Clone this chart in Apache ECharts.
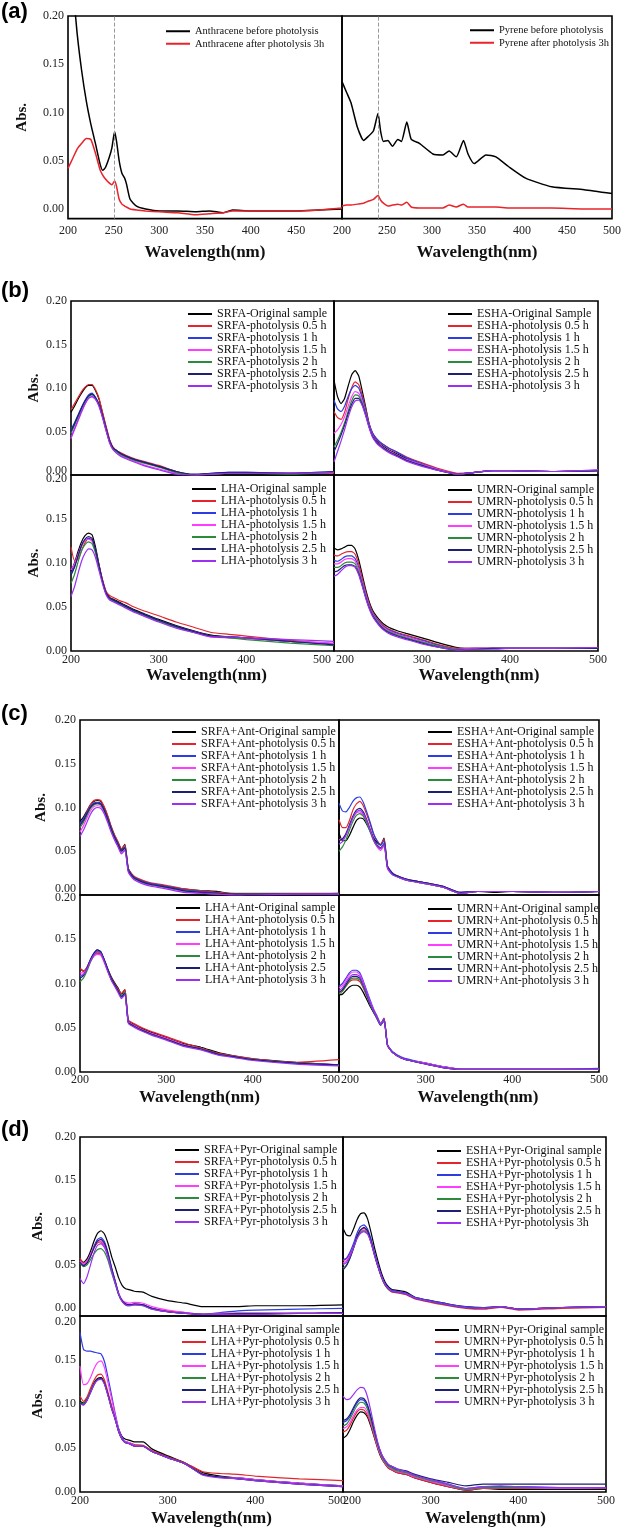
<!DOCTYPE html>
<html><head><meta charset="utf-8">
<script src="https://cdn.jsdelivr.net/npm/echarts@6/dist/echarts.min.js"></script>
<style>html,body{margin:0;padding:0;background:#fff}#c{width:624px;height:1528px}</style>
</head><body><div id="c"></div>
<script>
// ---------------- DATA ----------------
// (a) Anthracene
const A_ANT_WL = [200,205,210,215,220,225,230,235,238,241,245,248,251,253,256,259,262,264,268,275,285,300,320,340,355,370,380,400,425,450,475,500];
const A_ANT_BEFORE = [0.30,0.235,0.182,0.143,0.112,0.088,0.068,0.047,0.040,0.043,0.053,0.063,0.080,0.071,0.050,0.037,0.032,0.026,0.010,0.003,0.000,-0.002,-0.002,-0.003,-0.002,-0.004,-0.001,-0.002,-0.002,-0.002,-0.001,0.000];
const A_ANT_AFTER  = [0.042,0.052,0.062,0.068,0.073,0.072,0.058,0.041,0.035,0.031,0.027,0.025,0.029,0.024,0.010,0.005,0.003,0.002,0.000,-0.001,-0.002,-0.003,-0.004,-0.006,-0.005,-0.004,-0.002,-0.002,-0.002,-0.002,-0.001,0.001];
const A_ANT_NAMES = ['Anthracene before photolysis','Anthracene after photolysis 3h'];
// (a) Pyrene
const A_PYR_WL = [200,205,210,217,224,229,235,240,243,246,251,256,262,266,272,277,286,301,312,319,327,335,340,347,360,371,385,404,433,469,500];
const A_PYR_BEFORE = [0.132,0.121,0.110,0.085,0.071,0.075,0.081,0.099,0.080,0.070,0.071,0.065,0.072,0.070,0.090,0.072,0.068,0.057,0.056,0.060,0.054,0.071,0.057,0.047,0.056,0.054,0.044,0.032,0.023,0.020,0.016];
const A_PYR_AFTER  = [0.003,0.004,0.004,0.005,0.006,0.008,0.010,0.014,0.009,0.006,0.003,0.004,0.005,0.004,0.007,0.002,0.001,0.001,0.001,0.004,0.002,0.005,0.002,0.002,0.002,0.002,0.001,0.001,0.001,0.000,0.000];
const A_PYR_NAMES = ['Pyrene before photolysis','Pyrene after photolysis 3h'];

// (b)-(d) common wavelength grid
const WL = [200,204,208,212,216,220,224,228,232,236,240,244,248,252,256,262,272,282,300,320,340,360,380,400,450,500];

// order of each list: Original, 0.5 h, 1 h, 1.5 h, 2 h, 2.5 h, 3 h
const B_SRFA_NAMES = ['SRFA-Original sample','SRFA-photolysis 0.5 h','SRFA-photolysis 1 h','SRFA-photolysis 1.5 h','SRFA-photolysis 2 h','SRFA-photolysis 2.5 h','SRFA-photolysis 3 h'];
const B_SRFA = [
 [0.072,0.079,0.087,0.094,0.100,0.103,0.103,0.097,0.087,0.071,0.055,0.040,0.031,0.028,0.025,0.022,0.018,0.015,0.010,0.003,0.000,0.001,0.002,0.002,0.002,0.003],
 [0.075,0.082,0.089,0.096,0.101,0.104,0.104,0.098,0.088,0.072,0.056,0.041,0.032,0.028,0.026,0.023,0.019,0.016,0.011,0.004,0.000,0.001,0.002,0.002,0.002,0.002],
 [0.052,0.060,0.069,0.078,0.086,0.092,0.094,0.089,0.081,0.068,0.053,0.039,0.031,0.028,0.025,0.022,0.018,0.015,0.010,0.004,0.000,0.002,0.003,0.003,0.002,0.004],
 [0.042,0.052,0.062,0.072,0.081,0.088,0.090,0.087,0.079,0.066,0.051,0.037,0.029,0.026,0.023,0.020,0.016,0.012,0.007,0.002,0.000,0.001,0.002,0.002,0.002,0.003],
 [0.048,0.057,0.066,0.076,0.084,0.090,0.092,0.088,0.080,0.067,0.052,0.038,0.030,0.027,0.024,0.021,0.017,0.014,0.009,0.003,0.000,0.001,0.002,0.002,0.001,0.003],
 [0.050,0.059,0.068,0.077,0.085,0.091,0.093,0.089,0.081,0.068,0.053,0.039,0.031,0.028,0.025,0.022,0.018,0.015,0.010,0.004,0.001,0.002,0.003,0.003,0.002,0.004],
 [0.043,0.053,0.063,0.073,0.082,0.088,0.090,0.087,0.079,0.066,0.051,0.037,0.029,0.025,0.022,0.019,0.015,0.011,0.006,0.001,0.000,0.001,0.002,0.002,0.002,0.003]
];
const B_ESHA_NAMES = ['ESHA-Original Sample','ESHA-photolysis 0.5 h','ESHA-photolysis 1 h','ESHA-photolysis 1.5 h','ESHA-photolysis 2 h','ESHA-photolysis 2.5 h','ESHA-photolysis 3 h'];
const B_ESHA = [
 [0.109,0.090,0.082,0.088,0.102,0.115,0.120,0.114,0.097,0.078,0.058,0.046,0.040,0.036,0.033,0.029,0.024,0.019,0.012,0.006,0.001,0.003,0.005,0.005,0.004,0.005],
 [0.073,0.066,0.064,0.072,0.087,0.100,0.107,0.104,0.092,0.076,0.059,0.048,0.042,0.038,0.035,0.031,0.026,0.021,0.014,0.007,0.002,0.003,0.005,0.005,0.004,0.005],
 [0.086,0.076,0.073,0.079,0.090,0.099,0.103,0.100,0.089,0.074,0.058,0.048,0.042,0.038,0.035,0.031,0.026,0.020,0.013,0.006,0.001,0.003,0.005,0.005,0.004,0.005],
 [0.048,0.052,0.058,0.067,0.079,0.090,0.096,0.094,0.085,0.071,0.056,0.045,0.039,0.035,0.032,0.028,0.023,0.018,0.012,0.006,0.001,0.003,0.005,0.005,0.004,0.006],
 [0.032,0.040,0.049,0.060,0.073,0.085,0.092,0.091,0.083,0.070,0.055,0.044,0.038,0.034,0.031,0.027,0.022,0.017,0.011,0.005,0.001,0.003,0.005,0.005,0.004,0.005],
 [0.027,0.036,0.046,0.057,0.070,0.081,0.088,0.088,0.081,0.069,0.055,0.044,0.038,0.034,0.031,0.027,0.022,0.017,0.011,0.005,0.001,0.003,0.005,0.005,0.004,0.005],
 [0.015,0.027,0.039,0.052,0.066,0.078,0.085,0.086,0.080,0.068,0.054,0.043,0.037,0.033,0.030,0.026,0.021,0.016,0.010,0.005,0.001,0.003,0.005,0.005,0.004,0.006]
];
const B_LHA_NAMES = ['LHA-Original sample','LHA-photolysis 0.5 h','LHA-photolysis 1 h','LHA-photolysis 1.5 h','LHA-photolysis 2 h','LHA-photolysis 2.5 h','LHA-photolysis 3 h'];
const B_LHA = [
 [0.090,0.100,0.113,0.124,0.131,0.134,0.132,0.118,0.098,0.080,0.067,0.061,0.059,0.057,0.055,0.052,0.047,0.043,0.036,0.029,0.023,0.018,0.016,0.015,0.011,0.008],
 [0.118,0.103,0.104,0.114,0.123,0.128,0.126,0.114,0.097,0.081,0.068,0.063,0.061,0.059,0.057,0.055,0.050,0.046,0.040,0.033,0.027,0.021,0.019,0.017,0.012,0.008],
 [0.088,0.096,0.108,0.119,0.126,0.128,0.126,0.114,0.096,0.079,0.066,0.060,0.058,0.056,0.054,0.051,0.046,0.042,0.035,0.028,0.022,0.017,0.016,0.015,0.011,0.008],
 [0.092,0.099,0.110,0.120,0.126,0.127,0.125,0.113,0.095,0.078,0.065,0.059,0.057,0.055,0.053,0.050,0.045,0.041,0.034,0.027,0.022,0.016,0.015,0.014,0.011,0.009],
 [0.077,0.087,0.101,0.114,0.121,0.124,0.122,0.111,0.094,0.078,0.065,0.059,0.057,0.055,0.053,0.050,0.045,0.041,0.034,0.027,0.021,0.017,0.015,0.013,0.009,0.006],
 [0.086,0.095,0.108,0.120,0.127,0.130,0.128,0.115,0.097,0.079,0.066,0.060,0.058,0.056,0.054,0.051,0.046,0.042,0.035,0.028,0.022,0.017,0.016,0.015,0.011,0.007],
 [0.062,0.073,0.088,0.102,0.111,0.116,0.115,0.106,0.091,0.076,0.064,0.058,0.056,0.054,0.052,0.049,0.044,0.040,0.033,0.026,0.021,0.016,0.016,0.015,0.013,0.011]
];
const B_UMRN_NAMES = ['UMRN-Original sample','UMRN-photolysis 0.5 h','UMRN-photolysis 1 h','UMRN-photolysis 1.5 h','UMRN-photolysis 2 h','UMRN-photolysis 2.5 h','UMRN-photolysis 3 h'];
const B_UMRN = [
 [0.117,0.115,0.116,0.118,0.120,0.120,0.116,0.104,0.087,0.070,0.056,0.046,0.040,0.035,0.031,0.027,0.023,0.020,0.015,0.009,0.004,0.003,0.003,0.003,0.003,0.003],
 [0.109,0.108,0.110,0.112,0.113,0.113,0.110,0.099,0.083,0.067,0.054,0.044,0.038,0.033,0.029,0.025,0.021,0.018,0.013,0.007,0.003,0.003,0.003,0.003,0.003,0.003],
 [0.103,0.102,0.104,0.107,0.108,0.108,0.105,0.095,0.080,0.065,0.052,0.043,0.037,0.032,0.028,0.024,0.020,0.017,0.012,0.006,0.002,0.003,0.003,0.003,0.003,0.004],
 [0.099,0.099,0.101,0.104,0.105,0.105,0.102,0.093,0.079,0.064,0.051,0.042,0.036,0.031,0.027,0.023,0.019,0.016,0.011,0.005,0.002,0.003,0.003,0.003,0.003,0.004],
 [0.095,0.095,0.097,0.100,0.101,0.101,0.099,0.090,0.077,0.062,0.050,0.041,0.035,0.030,0.026,0.022,0.018,0.015,0.010,0.005,0.002,0.002,0.003,0.003,0.003,0.003],
 [0.090,0.091,0.094,0.097,0.098,0.098,0.096,0.088,0.075,0.061,0.049,0.040,0.034,0.029,0.025,0.021,0.017,0.014,0.009,0.004,0.001,0.002,0.003,0.003,0.003,0.003],
 [0.085,0.087,0.091,0.095,0.097,0.097,0.095,0.087,0.074,0.060,0.048,0.039,0.033,0.028,0.024,0.020,0.016,0.013,0.008,0.004,0.001,0.002,0.002,0.003,0.003,0.004]
];
const C_SRFA_NAMES = ['SRFA+Ant-Original sample','SRFA+Ant-photolysis 0.5 h','SRFA+Ant-photolysis 1 h','SRFA+Ant-photolysis 1.5 h','SRFA+Ant-photolysis 2 h','SRFA+Ant-photolysis 2.5 h','SRFA+Ant-photolysis 3 h'];
const C_SRFA = [
 [0.084,0.089,0.096,0.103,0.107,0.108,0.107,0.100,0.090,0.078,0.068,0.060,0.052,0.058,0.030,0.021,0.016,0.013,0.010,0.007,0.005,0.004,0.001,0.001,0.001,0.001],
 [0.080,0.087,0.095,0.103,0.108,0.109,0.108,0.101,0.091,0.079,0.069,0.061,0.053,0.057,0.030,0.022,0.017,0.014,0.011,0.007,0.005,0.003,0.002,0.002,0.002,0.002],
 [0.082,0.087,0.094,0.101,0.105,0.106,0.105,0.098,0.088,0.077,0.067,0.059,0.051,0.055,0.029,0.021,0.016,0.013,0.010,0.006,0.004,0.002,0.001,0.001,0.001,0.002],
 [0.072,0.079,0.088,0.096,0.101,0.102,0.101,0.095,0.085,0.074,0.064,0.056,0.048,0.052,0.027,0.019,0.014,0.011,0.008,0.004,0.002,0.001,0.000,0.001,0.001,0.001],
 [0.077,0.083,0.091,0.099,0.103,0.104,0.103,0.097,0.087,0.076,0.066,0.058,0.050,0.054,0.028,0.020,0.015,0.012,0.009,0.005,0.003,0.002,0.001,0.001,0.001,0.001],
 [0.080,0.085,0.093,0.100,0.104,0.105,0.104,0.097,0.087,0.076,0.066,0.058,0.050,0.054,0.028,0.020,0.015,0.012,0.009,0.005,0.003,0.002,0.001,0.001,0.001,0.001],
 [0.067,0.074,0.083,0.092,0.098,0.100,0.099,0.093,0.083,0.072,0.063,0.055,0.047,0.051,0.026,0.018,0.013,0.010,0.007,0.003,0.002,0.001,0.000,0.000,0.001,0.001]
];
const C_ESHA_NAMES = ['ESHA+Ant-Original sample','ESHA+Ant-photolysis 0.5 h','ESHA+Ant-photolysis 1 h','ESHA+Ant-photolysis 1.5 h','ESHA+Ant-photolysis 2 h','ESHA+Ant-photolysis 2.5 h','ESHA+Ant-photolysis 3 h'];
const C_ESHA = [
 [0.071,0.062,0.062,0.068,0.077,0.085,0.088,0.087,0.081,0.073,0.065,0.060,0.057,0.065,0.032,0.024,0.019,0.016,0.013,0.009,0.002,0.004,0.003,0.004,0.003,0.004],
 [0.086,0.077,0.077,0.085,0.097,0.104,0.107,0.102,0.092,0.081,0.069,0.062,0.058,0.064,0.033,0.025,0.020,0.017,0.014,0.010,0.003,0.004,0.004,0.004,0.003,0.004],
 [0.105,0.096,0.095,0.100,0.107,0.111,0.112,0.106,0.095,0.083,0.070,0.062,0.057,0.062,0.033,0.025,0.020,0.017,0.014,0.010,0.003,0.004,0.004,0.004,0.003,0.004],
 [0.063,0.064,0.070,0.079,0.088,0.094,0.095,0.091,0.083,0.073,0.062,0.055,0.051,0.056,0.030,0.023,0.019,0.016,0.013,0.009,0.002,0.004,0.004,0.004,0.003,0.004],
 [0.050,0.055,0.063,0.074,0.084,0.091,0.093,0.090,0.082,0.072,0.062,0.056,0.053,0.058,0.031,0.023,0.019,0.016,0.013,0.009,0.002,0.004,0.004,0.004,0.003,0.004],
 [0.062,0.064,0.070,0.080,0.090,0.097,0.099,0.095,0.086,0.075,0.064,0.057,0.054,0.059,0.032,0.024,0.020,0.017,0.014,0.010,0.003,0.004,0.004,0.004,0.003,0.004],
 [0.058,0.061,0.068,0.078,0.088,0.095,0.097,0.093,0.085,0.074,0.063,0.056,0.053,0.058,0.031,0.023,0.019,0.016,0.013,0.009,0.002,0.004,0.004,0.004,0.003,0.004]
];
const C_LHA_NAMES = ['LHA+Ant-Original sample','LHA+Ant-photolysis 0.5 h','LHA+Ant-photolysis 1 h','LHA+Ant-photolysis 1.5 h','LHA+Ant-photolysis 2 h','LHA+Ant-photolysis 2.5','LHA+Ant-photolysis 3 h'];
const C_LHA = [
 [0.117,0.114,0.118,0.126,0.133,0.136,0.135,0.127,0.117,0.108,0.101,0.095,0.088,0.093,0.058,0.054,0.049,0.045,0.039,0.032,0.028,0.022,0.018,0.015,0.011,0.008],
 [0.117,0.114,0.118,0.125,0.131,0.134,0.133,0.126,0.116,0.107,0.100,0.094,0.089,0.093,0.059,0.055,0.050,0.046,0.040,0.033,0.027,0.021,0.018,0.015,0.011,0.014],
 [0.108,0.110,0.117,0.126,0.134,0.138,0.136,0.127,0.116,0.106,0.099,0.092,0.085,0.089,0.056,0.052,0.047,0.043,0.037,0.030,0.026,0.020,0.017,0.014,0.010,0.008],
 [0.112,0.112,0.117,0.125,0.131,0.133,0.132,0.124,0.114,0.105,0.098,0.092,0.086,0.090,0.057,0.053,0.048,0.044,0.038,0.031,0.026,0.020,0.017,0.014,0.010,0.008],
 [0.102,0.106,0.114,0.124,0.132,0.136,0.135,0.126,0.115,0.105,0.098,0.092,0.086,0.090,0.056,0.052,0.047,0.043,0.037,0.030,0.026,0.020,0.017,0.014,0.010,0.008],
 [0.106,0.109,0.117,0.127,0.134,0.138,0.136,0.127,0.116,0.106,0.099,0.092,0.085,0.089,0.056,0.052,0.047,0.043,0.037,0.030,0.026,0.020,0.017,0.014,0.010,0.008],
 [0.109,0.110,0.116,0.125,0.132,0.136,0.134,0.125,0.114,0.104,0.097,0.090,0.083,0.087,0.055,0.051,0.046,0.042,0.036,0.029,0.025,0.019,0.016,0.013,0.009,0.007]
];
const C_UMRN_NAMES = ['UMRN+Ant-Original sample','UMRN+Ant-photolysis 0.5 h','UMRN+Ant-photolysis 1 h','UMRN+Ant-photolysis 1.5 h','UMRN+Ant-photolysis 2 h','UMRN+Ant-photolysis 2.5 h','UMRN+Ant-photolysis 3 h'];
const C_UMRN = [
 [0.087,0.088,0.092,0.096,0.098,0.098,0.096,0.090,0.082,0.074,0.067,0.060,0.053,0.060,0.030,0.022,0.016,0.013,0.010,0.006,0.003,0.003,0.003,0.003,0.003,0.003],
 [0.090,0.092,0.097,0.102,0.104,0.104,0.102,0.095,0.086,0.077,0.069,0.061,0.054,0.061,0.030,0.022,0.016,0.013,0.009,0.005,0.003,0.003,0.003,0.003,0.003,0.003],
 [0.097,0.100,0.106,0.112,0.115,0.115,0.112,0.103,0.092,0.081,0.071,0.063,0.055,0.060,0.031,0.023,0.017,0.014,0.010,0.006,0.003,0.003,0.003,0.003,0.003,0.004],
 [0.095,0.098,0.104,0.110,0.113,0.113,0.110,0.101,0.090,0.079,0.070,0.062,0.054,0.059,0.030,0.022,0.016,0.013,0.010,0.006,0.003,0.003,0.003,0.003,0.003,0.003],
 [0.088,0.091,0.097,0.103,0.106,0.106,0.104,0.096,0.086,0.076,0.068,0.060,0.053,0.058,0.030,0.022,0.016,0.013,0.009,0.005,0.003,0.003,0.003,0.003,0.003,0.003],
 [0.090,0.093,0.099,0.105,0.108,0.108,0.106,0.098,0.088,0.077,0.069,0.061,0.053,0.058,0.030,0.022,0.016,0.013,0.009,0.005,0.003,0.003,0.003,0.003,0.003,0.003],
 [0.092,0.095,0.101,0.107,0.110,0.110,0.108,0.099,0.089,0.078,0.069,0.061,0.053,0.058,0.030,0.022,0.016,0.013,0.009,0.005,0.003,0.003,0.003,0.003,0.003,0.003]
];
const D_SRFA_NAMES = ['SRFA+Pyr-Original sample','SRFA+Pyr-photolysis 0.5 h','SRFA+Pyr-photolysis 1 h','SRFA+Pyr-photolysis 1.5 h','SRFA+Pyr-photolysis 2 h','SRFA+Pyr-photolysis 2.5 h','SRFA+Pyr-photolysis 3 h'];
const D_SRFA = [
 [0.056,0.053,0.057,0.066,0.078,0.087,0.090,0.086,0.075,0.060,0.048,0.035,0.026,0.022,0.021,0.019,0.018,0.013,0.008,0.005,0.001,0.001,0.001,0.002,0.002,0.003],
 [0.058,0.052,0.054,0.061,0.070,0.076,0.077,0.072,0.060,0.044,0.030,0.016,0.008,0.004,0.003,0.004,0.003,-0.001,-0.004,-0.006,-0.008,-0.007,-0.007,-0.007,-0.007,-0.006],
 [0.054,0.050,0.053,0.061,0.072,0.080,0.082,0.077,0.064,0.047,0.032,0.017,0.008,0.004,0.003,0.004,0.003,-0.001,-0.005,-0.007,-0.008,-0.006,-0.004,-0.003,-0.002,-0.001],
 [0.055,0.051,0.054,0.062,0.071,0.077,0.078,0.073,0.061,0.045,0.031,0.017,0.009,0.006,0.005,0.006,0.005,0.001,-0.003,-0.006,-0.008,-0.007,-0.007,-0.007,-0.007,-0.006],
 [0.052,0.048,0.050,0.056,0.063,0.068,0.069,0.065,0.055,0.041,0.028,0.015,0.007,0.003,0.002,0.003,0.002,-0.002,-0.005,-0.007,-0.008,-0.008,-0.008,-0.008,-0.007,-0.007],
 [0.053,0.049,0.052,0.060,0.070,0.078,0.080,0.075,0.063,0.046,0.031,0.016,0.008,0.004,0.003,0.004,0.003,-0.001,-0.005,-0.007,-0.008,-0.008,-0.007,-0.007,-0.007,-0.006],
 [0.034,0.028,0.036,0.050,0.064,0.073,0.075,0.070,0.059,0.043,0.029,0.016,0.007,0.003,0.002,0.003,0.002,-0.002,-0.005,-0.007,-0.008,-0.008,-0.008,-0.008,-0.007,-0.007]
];
const D_ESHA_NAMES = ['ESHA+Pyr-Original sample','ESHA+Pyr-photolysis 0.5 h','ESHA+Pyr-photolysis 1 h','ESHA+Pyr-photolysis 1.5 h','ESHA+Pyr-photolysis 2 h','ESHA+Pyr-photolysis 2.5 h','ESHA+Pyr-photolysis 3h'];
const D_ESHA = [
 [0.093,0.085,0.084,0.092,0.103,0.110,0.111,0.104,0.088,0.070,0.054,0.040,0.030,0.024,0.021,0.020,0.018,0.012,0.008,0.004,0.001,0.000,0.001,-0.002,0.000,0.001],
 [0.055,0.057,0.063,0.072,0.084,0.091,0.093,0.089,0.077,0.062,0.048,0.035,0.026,0.021,0.018,0.017,0.015,0.010,0.006,0.002,-0.001,-0.002,0.000,-0.003,-0.001,0.000],
 [0.056,0.058,0.065,0.075,0.087,0.095,0.097,0.092,0.080,0.064,0.050,0.037,0.028,0.023,0.020,0.019,0.017,0.012,0.008,0.004,0.001,0.000,0.001,-0.002,0.000,0.001],
 [0.052,0.055,0.061,0.071,0.082,0.089,0.091,0.088,0.077,0.062,0.048,0.036,0.027,0.022,0.019,0.018,0.016,0.011,0.007,0.003,0.000,-0.001,0.001,-0.002,0.000,0.001],
 [0.046,0.050,0.058,0.069,0.081,0.088,0.090,0.087,0.076,0.061,0.047,0.035,0.026,0.021,0.019,0.018,0.016,0.011,0.007,0.003,0.000,-0.001,0.001,-0.002,0.000,0.001],
 [0.044,0.049,0.058,0.070,0.083,0.091,0.094,0.090,0.078,0.062,0.048,0.036,0.027,0.022,0.019,0.018,0.016,0.011,0.007,0.003,0.000,-0.001,0.001,-0.002,0.000,0.001],
 [0.050,0.053,0.060,0.070,0.081,0.087,0.089,0.086,0.076,0.061,0.048,0.036,0.027,0.022,0.019,0.018,0.016,0.011,0.007,0.003,0.000,-0.001,0.001,-0.002,0.000,0.001]
];
const D_LHA_NAMES = ['LHA+Pyr-Original sample','LHA+Pyr-photolysis 0.5 h','LHA+Pyr-photolysis 1 h','LHA+Pyr-photolysis 1.5 h','LHA+Pyr-photolysis 2 h','LHA+Pyr-photolysis 2.5 h','LHA+Pyr-photolysis 3 h'];
const D_LHA = [
 [0.103,0.101,0.106,0.115,0.124,0.129,0.130,0.124,0.111,0.097,0.085,0.072,0.063,0.060,0.059,0.057,0.057,0.049,0.041,0.033,0.022,0.018,0.016,0.014,0.010,0.007],
 [0.109,0.103,0.108,0.118,0.127,0.133,0.134,0.127,0.113,0.098,0.084,0.069,0.060,0.057,0.056,0.054,0.053,0.047,0.040,0.033,0.023,0.021,0.020,0.018,0.015,0.013],
 [0.181,0.162,0.160,0.160,0.159,0.158,0.157,0.148,0.130,0.110,0.090,0.072,0.062,0.057,0.056,0.053,0.052,0.046,0.039,0.032,0.020,0.017,0.016,0.014,0.010,0.007],
 [0.143,0.122,0.123,0.130,0.140,0.147,0.149,0.141,0.124,0.106,0.088,0.071,0.061,0.057,0.056,0.053,0.052,0.046,0.039,0.032,0.020,0.017,0.016,0.014,0.010,0.007],
 [0.102,0.100,0.105,0.114,0.123,0.128,0.129,0.123,0.110,0.095,0.083,0.069,0.060,0.056,0.055,0.052,0.052,0.046,0.039,0.032,0.020,0.017,0.015,0.013,0.009,0.006],
 [0.101,0.099,0.104,0.113,0.122,0.128,0.129,0.123,0.110,0.095,0.083,0.069,0.060,0.056,0.055,0.052,0.052,0.046,0.039,0.032,0.020,0.017,0.015,0.013,0.009,0.006],
 [0.100,0.099,0.104,0.113,0.122,0.127,0.128,0.122,0.109,0.095,0.083,0.069,0.060,0.056,0.055,0.052,0.052,0.046,0.039,0.032,0.019,0.016,0.015,0.013,0.009,0.006]
];
const D_UMRN_NAMES = ['UMRN+Pyr-Original sample','UMRN+Pyr-photolysis 0.5 h','UMRN+Pyr-photolysis 1 h','UMRN+Pyr-photolysis 1.5 h','UMRN+Pyr-photolysis 2 h','UMRN+Pyr-photolysis 2.5 h','UMRN+Pyr-photolysis 3 h'];
const D_UMRN = [
 [0.061,0.064,0.071,0.080,0.087,0.091,0.090,0.085,0.074,0.061,0.048,0.038,0.032,0.027,0.025,0.022,0.020,0.016,0.011,0.006,0.002,0.004,0.003,0.003,0.003,0.003],
 [0.068,0.070,0.076,0.084,0.091,0.094,0.093,0.087,0.076,0.062,0.049,0.039,0.032,0.027,0.025,0.022,0.020,0.016,0.011,0.006,0.002,0.004,0.004,0.004,0.004,0.004],
 [0.079,0.081,0.086,0.094,0.101,0.105,0.104,0.097,0.083,0.068,0.053,0.042,0.035,0.030,0.028,0.025,0.023,0.019,0.014,0.009,0.004,0.006,0.006,0.006,0.005,0.005],
 [0.072,0.074,0.079,0.087,0.093,0.096,0.096,0.090,0.078,0.064,0.050,0.040,0.033,0.028,0.026,0.023,0.021,0.017,0.012,0.007,0.003,0.005,0.005,0.005,0.004,0.005],
 [0.075,0.077,0.083,0.091,0.098,0.102,0.101,0.094,0.081,0.066,0.052,0.041,0.034,0.029,0.027,0.024,0.022,0.018,0.013,0.008,0.003,0.005,0.005,0.005,0.005,0.005],
 [0.081,0.083,0.088,0.096,0.103,0.107,0.106,0.099,0.085,0.069,0.054,0.043,0.036,0.031,0.029,0.026,0.024,0.020,0.015,0.011,0.007,0.009,0.009,0.009,0.009,0.009],
 [0.109,0.105,0.106,0.111,0.116,0.119,0.118,0.108,0.091,0.072,0.055,0.043,0.036,0.031,0.029,0.026,0.023,0.019,0.014,0.009,0.004,0.006,0.007,0.006,0.005,0.005]
];

const COLORS7 = ['#000000','#e4262c','#2d3de4','#ff3cff','#2b8a3c','#1e2072','#9b30f2'];
const COLORS2 = ['#000000','#e8232a'];

// ---------------- BUILD ----------------
const SERIF = "'Liberation Serif','Times New Roman',serif";
const grids = [], xAxes = [], yAxes = [], legends = [], series = [];

function yFmtFactory(p){
  return function(v){
    if (v < -1e-9) return '';
    if (Math.abs(v*20 - Math.round(v*20)) > 1e-6) return '';
    const s = v.toFixed(2);
    if (p.yTopDown && Math.abs(v-0.2) < 1e-9) return '{d|' + s + '}';
    if (p.yBotUp && Math.abs(v) < 1e-9) return '{u|' + s + '}';
    return s;
  };
}
function xFmtFactory(p){
  return function(v){
    if (p.xHideMax && v === 500) return '';
    if (p.xMaxLeft && v === 500) return '{l|500}';
    if (p.xMinRight && v === 200) return '{r|200}';
    return String(v);
  };
}

function addPanel(p){
  const i = grids.length;
  grids.push({left:p.l, top:p.t, width:p.w, height:p.h, show:true, borderColor:'#000', borderWidth:1.6, backgroundColor:'rgba(0,0,0,0)'});
  const lab = {fontFamily:SERIF, fontSize:12, color:'#222'};
  xAxes.push({
    type:'value', gridIndex:i, min:200, max:500, interval:p.xInt,
    axisLine:{show:false}, axisTick:{show:false}, splitLine:{show:false},
    axisLabel:{show:!!p.xLabels, margin:p.xMargin||4, formatter:xFmtFactory(p), ...lab,
      rich:{l:{...lab, padding:[0,(p.xMaxLeft||0)*2,0,0]}, r:{...lab, padding:[0,0,0,(p.xMinRight||0)*2]}}},
    name: p.xName ? 'Wavelength(nm)' : '', nameLocation:'middle', nameGap:p.xGap||20,
    nameTextStyle:{fontFamily:SERIF, fontWeight:'bold', fontSize:17, color:'#111',
      padding: p.xdx>0 ? [0,0,0,2*p.xdx] : [0,-2*(p.xdx||0),0,0]}
  });
  yAxes.push({
    type:'value', gridIndex:i, min:p.ymin, max:0.2,
    ...(p.ymin === 0 ? {interval:0.05} : {splitNumber:4}),
    axisLine:{show:false}, axisTick:{show:false}, splitLine:{show:false},
    axisLabel:{show:!!p.yLabels, margin:4, formatter:yFmtFactory(p), ...lab,
      rich:{u:{...lab, padding:[0,0,(p.yBotUp||0)*2,0]}, d:{...lab, padding:[(p.yTopDown||0)*2,0,0,0]}}},
    name: p.yName ? 'Abs.' : '', nameLocation:'middle', nameGap:p.yGap||30, nameRotate:90,
    nameTextStyle:{fontFamily:SERIF, fontWeight:'bold', fontSize:15, color:'#111'}
  });
  legends.push({
    orient:'vertical', left:p.leg[0], top:p.leg[1], itemWidth:24, itemHeight:2, itemGap:0,
    icon:'rect', padding:0, selectedMode:false, data:p.names,
    textStyle:{fontFamily:SERIF, fontSize:p.legFs||12, color:'#111', lineHeight:p.legLh||11.6}
  });
  p.vals.forEach(function(arr, k){
    const s = {
      type:'line', name:p.names[k], xAxisIndex:i, yAxisIndex:i,
      data: arr.map(function(v, j){ return [p.wl[j], v]; }),
      showSymbol:false, symbol:'none', color:p.colors[k], smooth:0.18,
      lineStyle:{width:p.lw||1.2, color:p.colors[k]}, animation:false, silent:true
    };
    if (k === 0 && p.mark) {
      s.markLine = {silent:true, symbol:'none', label:{show:false}, animation:false,
        lineStyle:{color:'#9a9a9a', type:'dashed', width:1}, data:[{xAxis:p.mark}]};
    }
    series.push(s);
  });
}

// (a)
addPanel({wl:A_ANT_WL, vals:[A_ANT_BEFORE, A_ANT_AFTER], names:A_ANT_NAMES, colors:COLORS2, lw:1.5,
  l:68, t:16, w:274, h:202.6, ymin:-0.01, xInt:50, yLabels:true, xLabels:true, xHideMax:true, xMargin:6,
  xName:true, xGap:26, yName:true, yGap:38, leg:[166,25], legFs:10.5, legLh:12.5, mark:251});
addPanel({wl:A_PYR_WL, vals:[A_PYR_BEFORE, A_PYR_AFTER], names:A_PYR_NAMES, colors:COLORS2, lw:1.5,
  l:342, t:16, w:273, h:202.6, ymin:-0.01, xInt:50, yLabels:false, xLabels:true, xMargin:6,
  xName:true, xGap:26, leg:[470,24], legFs:10.5, legLh:12.5, mark:240});
// (b)
addPanel({wl:WL, vals:B_SRFA, names:B_SRFA_NAMES, colors:COLORS7, l:71, t:301, w:263, h:174, ymin:0, xInt:100,
  yLabels:true, yBotUp:4, yName:true, yGap:28, leg:[188,308]});
addPanel({wl:WL, vals:B_ESHA, names:B_ESHA_NAMES, colors:COLORS7, l:334, t:301, w:264, h:174, ymin:0, xInt:100,
  leg:[448,308]});
addPanel({wl:WL, vals:B_LHA, names:B_LHA_NAMES, colors:COLORS7, l:71, t:475, w:263, h:176, ymin:0, xInt:100,
  yLabels:true, yTopDown:4, yName:true, yGap:28, xLabels:true, xMaxLeft:12, xMargin:3, xName:true, xGap:14, xdx:4, leg:[192,483]});
addPanel({wl:WL, vals:B_UMRN, names:B_UMRN_NAMES, colors:COLORS7, l:334, t:475, w:264, h:176, ymin:0, xInt:100,
  xLabels:true, xMinRight:11, xMargin:3, xName:true, xGap:14, xdx:13, leg:[448,484]});
// (c)
addPanel({wl:WL, vals:C_SRFA, names:C_SRFA_NAMES, colors:COLORS7, l:80, t:720, w:259, h:175, ymin:0, xInt:100,
  yLabels:true, yBotUp:6, yName:true, yGap:31, leg:[172,726]});
addPanel({wl:WL, vals:C_ESHA, names:C_ESHA_NAMES, colors:COLORS7, l:339, t:720, w:260, h:175, ymin:0, xInt:100,
  leg:[428,726]});
addPanel({wl:WL, vals:C_LHA, names:C_LHA_NAMES, colors:COLORS7, l:80, t:895, w:259, h:177, ymin:0, xInt:100,
  yLabels:true, yTopDown:3, xLabels:true, xMaxLeft:8, xMargin:2, xName:true, xGap:17, xdx:-10, leg:[176,902]});
addPanel({wl:WL, vals:C_UMRN, names:C_UMRN_NAMES, colors:COLORS7, l:339, t:895, w:260, h:177, ymin:0, xInt:100,
  xLabels:true, xMinRight:11, xMargin:2, xName:true, xGap:17, xdx:9, leg:[428,903]});
// (d)
addPanel({wl:WL, vals:D_SRFA, names:D_SRFA_NAMES, colors:COLORS7, l:80, t:1137, w:263, h:179, ymin:-0.01, xInt:100,
  yLabels:true, yName:true, yGap:34, leg:[175,1144]});
addPanel({wl:WL, vals:D_ESHA, names:D_ESHA_NAMES, colors:COLORS7, l:343, t:1137, w:263, h:179, ymin:-0.01, xInt:100,
  leg:[437,1145], legLh:11.8});
addPanel({wl:WL, vals:D_LHA, names:D_LHA_NAMES, colors:COLORS7, l:80, t:1316, w:263, h:178, ymin:0, xInt:100,
  yLabels:true, yTopDown:6, yName:true, yGap:34, xLabels:true, xMaxLeft:6, xMargin:3, xName:true, xGap:18, xdx:0, leg:[182,1324], legLh:11.8});
addPanel({wl:WL, vals:D_UMRN, names:D_UMRN_NAMES, colors:COLORS7, l:343, t:1316, w:263, h:178, ymin:0, xInt:100,
  xLabels:true, xMinRight:9, xMargin:3, xName:true, xGap:18, xdx:11, leg:[435,1324], legLh:11.8});

const panelLabelStyle = {fontFamily:"'Liberation Sans',Arial,sans-serif", fontWeight:'bold', fontSize:22, fill:'#000'};
const chart = echarts.init(document.getElementById('c'), null, {renderer:'canvas', width:624, height:1528});
chart.setOption({
  backgroundColor:'#ffffff',
  animation:false,
  grid:grids, xAxis:xAxes, yAxis:yAxes, legend:legends, series:series,
  graphic:[
    {type:'text', left:1, top:1, style:{text:'(a)', ...panelLabelStyle}},
    {type:'text', left:1, top:280, style:{text:'(b)', ...panelLabelStyle}},
    {type:'text', left:1, top:703, style:{text:'(c)', ...panelLabelStyle}},
    {type:'text', left:1, top:1119, style:{text:'(d)', ...panelLabelStyle}}
  ]
});
</script></body></html>
